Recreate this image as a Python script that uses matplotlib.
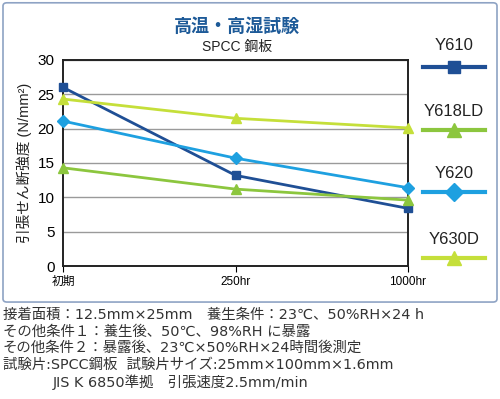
import matplotlib
matplotlib.use("Agg")
import matplotlib.pyplot as plt
from matplotlib.patches import FancyBboxPatch
from matplotlib.lines import Line2D

plt.rcParams['font.family'] = ['Liberation Sans', 'Noto Sans CJK JP', 'DejaVu Sans']

categories = ["初期", "250hr", "1000hr"]
series_names = ["Y610", "Y618LD", "Y620", "Y630D"]
y610 = [26.0, 13.2, 8.4]
y618ld = [14.3, 11.2, 9.6]
y620 = [21.1, 15.7, 11.4]
y630d = [24.3, 21.5, 20.1]
yticks = [0, 5, 10, 15, 20, 25, 30]

colors = ["#1f4f95", "#8cc63e", "#1ea0e0", "#c5df3a"]
markers = ["s", "^", "D", "^"]
msizes = [6, 7, 6, 7]
values = [y610, y618ld, y620, y630d]

fig = plt.figure(figsize=(5.0, 3.99), dpi=100)
fig.patch.set_facecolor("white")

# outer frame
frame = FancyBboxPatch((0.006, 0.243), 0.988, 0.75, boxstyle="round,pad=0,rounding_size=0.008",
                       transform=fig.transFigure, facecolor="white", edgecolor="#8ea3c4",
                       linewidth=1.2, zorder=-5)
fig.patches.append(frame)

ax = fig.add_axes([0.126, 0.333, 0.690, 0.517])
ax.set_zorder(2)
x = list(range(len(categories)))
for v, c, m, ms in zip(values, colors, markers, msizes):
    ax.plot(x, v, color=c, lw=2, marker=m, markersize=ms, markeredgecolor=c,
            clip_on=False, zorder=3)

ax.set_xlim(0, 2)
ax.set_ylim(0, 30)
ax.set_yticks(yticks)
ax.set_xticks(x)
ax.set_xticklabels(categories, fontsize=8.5)
ax.tick_params(axis="y", length=0, labelsize=11, pad=6)
ax.tick_params(axis="x", length=4, width=0.8, pad=3)
ax.grid(axis="y", color="#9a9a9a", lw=1)
ax.set_axisbelow(True)
for s in ax.spines.values():
    s.set_color("#222222")
    s.set_linewidth(1.4)
ax.set_ylabel("引張せん断強度 (N/mm²)", fontsize=10.5, labelpad=4, color="#222222")

# titles
fig.text(0.474, 0.932, "高温・高湿試験", ha="center", va="center", fontsize=13,
         fontweight="bold", color="#1d5a98")
fig.text(0.474, 0.882, "SPCC 鋼板", ha="center", va="center", fontsize=10, color="#222222")

# legend on right
text_y = [46, 112, 174, 240]
line_y = [67, 130, 192, 258]
for name, c, m, ms, ty, ly in zip(series_names, colors, markers, msizes, text_y, line_y):
    fig.text(0.908, 1 - ty / 399, name, ha="center", va="center", fontsize=12, color="#222222")
    ln = Line2D([0.846, 0.970], [1 - ly / 399] * 2, transform=fig.transFigure, color=c, lw=3)
    fig.lines.append(ln)
    mk = Line2D([0.908], [1 - ly / 399], transform=fig.transFigure, color=c, lw=0,
                marker=m, markersize=ms + 3)
    fig.lines.append(mk)

notes = [
    "接着面積：12.5mm×25mm　養生条件：23℃、50%RH×24 h",
    "その他条件１：養生後、50℃、98%RH に暴露",
    "その他条件２：暴露後、23℃×50%RH×24時間後測定",
    "試験片:SPCC鋼板  試験片サイズ:25mm×100mm×1.6mm",
    "JIS K 6850準拠　引張速度2.5mm/min",
]
note_y = [315, 332, 348, 365, 382]
note_x = [3, 3, 3, 3, 53]
for t, ny, nx in zip(notes, note_y, note_x):
    fig.text(nx / 500, 1 - ny / 399, t, ha="left", va="center", fontsize=10.4, color="#333333",
             family=['DejaVu Sans', 'Noto Sans CJK JP'])

fig.savefig("out.png", dpi=100)
